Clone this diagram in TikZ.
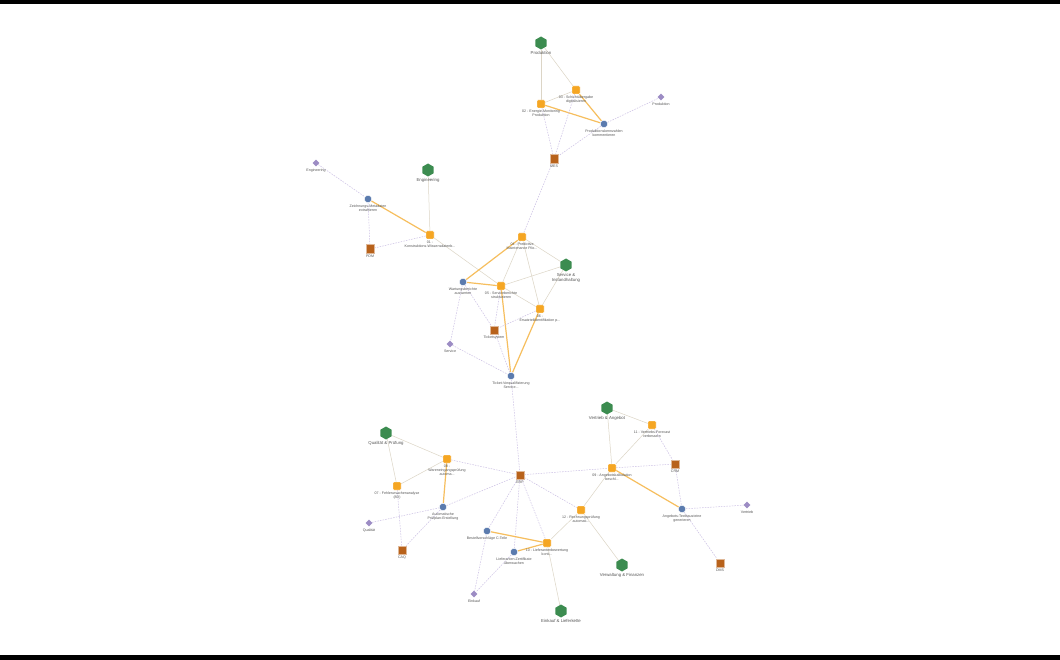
\documentclass[tikz,border=0pt]{standalone}
\usepackage{fontspec}
\setmainfont{Liberation Sans}
\usetikzlibrary{shapes.geometric,backgrounds}
\definecolor{ucor}{HTML}{F5A623}
\definecolor{sysbr}{HTML}{B8621B}
\definecolor{taskbl}{HTML}{5B7BAE}
\definecolor{domgr}{HTML}{3C8C50}
\definecolor{rolepu}{HTML}{9C8CC4}
\definecolor{edgeor}{HTML}{F5B342}
\definecolor{edgegr}{HTML}{DCD5C6}
\definecolor{edgepu}{HTML}{CBBFE4}
\definecolor{lbl}{HTML}{555555}
\tikzset{
  uc/.style={rectangle, rounded corners=0.8, fill=ucor, minimum size=8, inner sep=0, draw=white, line width=0.4},
  sys/.style={rectangle, fill=sysbr, minimum size=8.5, inner sep=0, draw=sysbr!45!white, line width=0.5},
  task/.style={circle, fill=taskbl, minimum size=7.5, inner sep=0, draw=white, line width=0.4},
  dom/.style={regular polygon, regular polygon sides=6, shape border rotate=30, fill=domgr, minimum size=13, inner sep=0},
  role/.style={diamond, fill=rolepu, minimum size=7, inner sep=0},
  lab/.style={font=\fontsize{3.6}{4}\selectfont, text=lbl, align=center, inner sep=0.3},
  hlab/.style={font=\fontsize{4.3}{4.8}\selectfont, text=lbl, align=center, inner sep=0.5},
  eor/.style={draw=edgeor, line width=1.2, opacity=0.85},
  egr/.style={draw=edgegr, line width=0.5},
  epu/.style={draw=edgepu, line width=0.5, dash pattern=on 1.5pt off 1.2pt},
  label distance=1.2,
}
\begin{document}
\begin{tikzpicture}[x=1pt,y=-1pt]
\useasboundingbox (0,0) rectangle (1060,660);

% Produktion cluster
\node[dom, label={[hlab]below:Produktion}] (hprod) at (541,43) {};
\node[uc, label={[lab]below:03 - Schichtübergabe\\digitalisieren}] (u03) at (576,90) {};
\node[uc, label={[lab]below:02 - Energie-Monitoring\\Produktion}] (u02) at (541,104) {};
\node[task, label={[lab]below:Produktionskennzahlen\\kommentieren}] (tkz) at (604,124) {};
\node[role, label={[lab]below:Produktion}] (dprod) at (661,97) {};
\node[sys, label={[lab]below:MES}] (mes) at (554,159) {};

% Engineering cluster
\node[role, label={[lab]below:Engineering}] (deng) at (316,163) {};
\node[dom, label={[hlab]below:Engineering}] (heng) at (428,170) {};
\node[task, label={[lab]below:Zeichnungs-Metadaten\\extrahieren}] (tzeich) at (368,199) {};
\node[uc, label={[lab]below:01 -\\Konstruktions-Wissensdatenb...}] (u01) at (430,235) {};
\node[sys, label={[lab]below:PDM}] (pdm) at (370,249) {};

% Service cluster
\node[uc, label={[lab]below:04 - Predictive\\Maintenance Pilo...}] (u04) at (522,237) {};
\node[dom, label={[hlab]below:Service \&\\Instandhaltung}] (hserv) at (566,265) {};
\node[task, label={[lab]below:Wartungsberichte\\auswerten}] (twart) at (463,282) {};
\node[uc, label={[lab]below:05 - Serviceberichte\\strukturieren}] (u05) at (501,286) {};
\node[uc, label={[lab]below:06 -\\Ersatzteilidentifikation p...}] (u06) at (540,309) {};
\node[sys, label={[lab]below:Ticketsystem}] (ticket) at (494,330) {};
\node[role, label={[lab]below:Service}] (dserv) at (450,344) {};
\node[task, label={[lab]below:Ticket-Vorqualifizierung\\Service...}] (tticket) at (511,376) {};

% Qualitaet / Einkauf cluster
\node[sys, label={[lab]below:ERP}] (erp) at (520,475) {};
\node[dom, label={[hlab]below:Qualität \& Prüfung}] (hqual) at (386,433) {};
\node[uc, label={[lab]below:08 -\\Wareneingangsprüfung\\automa...}] (u08) at (447,459) {};
\node[uc, label={[lab]below:07 - Fehlerursachenanalyse\\(8D)}] (u07) at (397,486) {};
\node[task, label={[lab]below:Automatische\\Prüfplan-Erstellung}] (tpruef) at (443,507) {};
\node[role, label={[lab]below:Qualität}] (dqual) at (369,523) {};
\node[sys, label={[lab]below:CAQ}] (caq) at (402,550) {};
\node[task, label={[lab]below:Bestellvorschläge C-Teile}] (tbest) at (487,531) {};
\node[uc, label={[lab]below:10 - Lieferantenbewertung\\konti...}] (u10) at (547,543) {};
\node[task, label={[lab]below:Lieferanten-Zertifikate\\überwachen}] (tlief) at (514,552) {};
\node[role, label={[lab]below:Einkauf}] (deink) at (474,594) {};
\node[dom, label={[hlab]below:Einkauf \& Lieferkette}] (heink) at (561,611) {};

% Vertrieb / Verwaltung cluster
\node[dom, label={[hlab]below:Vertrieb \& Angebot}] (hvert) at (607,408) {};
\node[uc, label={[lab]below:11 - Vertriebs-Forecast\\verbessern}] (u11) at (652,425) {};
\node[uc, label={[lab]below:09 - Angebotskalkulation\\beschl...}] (u09) at (612,468) {};
\node[sys, label={[lab]below:CRM}] (crm) at (675,464) {};
\node[task, label={[lab]below:Angebots-Textbausteine\\generieren}] (tang) at (682,509) {};
\node[role, label={[lab]below:Vertrieb}] (dvert) at (747,505) {};
\node[uc, label={[lab]below:12 - Rechnungsprüfung\\automati...}] (u12) at (581,510) {};
\node[sys, label={[lab]below:DMS}] (dms) at (720,563) {};
\node[dom, label={[hlab]below:Verwaltung \& Finanzen}] (hverw) at (622,565) {};

\begin{scope}[on background layer]
\fill[white] (0,0) rectangle (1060,660);
\fill[black] (0,0) rectangle (1060,4);
\fill[black] (0,655) rectangle (1060,660);
% Produktion
\draw[egr] (hprod) -- (u02);
\draw[egr] (hprod) -- (u03);
\draw[egr] (u02) -- (u03);
\draw[eor] (u02) -- (tkz);
\draw[eor] (u03) -- (tkz);
\draw[epu] (tkz) -- (dprod);
\draw[epu] (u02) -- (mes);
\draw[epu] (u03) -- (mes);
\draw[epu] (tkz) -- (mes);
\draw[epu] (mes) -- (u04);
% Engineering
\draw[epu] (deng) -- (tzeich);
\draw[egr] (heng) -- (u01);
\draw[eor] (tzeich) -- (u01);
\draw[epu] (tzeich) -- (pdm);
\draw[epu] (u01) -- (pdm);
\draw[egr] (u01) -- (u05);
% Service
\draw[eor] (u04) -- (twart);
\draw[egr] (u04) -- (u05);
\draw[egr] (u04) -- (hserv);
\draw[egr] (u04) -- (u06);
\draw[egr] (hserv) -- (u05);
\draw[egr] (hserv) -- (u06);
\draw[eor] (twart) -- (u05);
\draw[egr] (u05) -- (u06);
\draw[eor] (u05) -- (tticket);
\draw[eor] (u06) -- (tticket);
\draw[epu] (twart) -- (ticket);
\draw[epu] (u05) -- (ticket);
\draw[epu] (u06) -- (ticket);
\draw[epu] (tticket) -- (ticket);
\draw[epu] (twart) -- (dserv);
\draw[epu] (dserv) -- (tticket);
\draw[epu] (tticket) -- (erp);
% Qualitaet / Einkauf
\draw[egr] (hqual) -- (u08);
\draw[egr] (hqual) -- (u07);
\draw[egr] (u07) -- (u08);
\draw[eor] (u08) -- (tpruef);
\draw[epu] (u08) -- (erp);
\draw[epu] (u07) -- (caq);
\draw[epu] (tpruef) -- (erp);
\draw[epu] (tpruef) -- (caq);
\draw[epu] (dqual) -- (tpruef);
\draw[epu] (erp) -- (tbest);
\draw[epu] (erp) -- (tlief);
\draw[epu] (erp) -- (u10);
\draw[epu] (erp) -- (u09);
\draw[epu] (erp) -- (u12);
\draw[eor] (tbest) -- (u10);
\draw[eor] (tlief) -- (u10);
\draw[epu] (tbest) -- (deink);
\draw[epu] (tlief) -- (deink);
\draw[egr] (u10) -- (heink);
\draw[egr] (u10) -- (u12);
% Vertrieb / Verwaltung
\draw[egr] (hvert) -- (u11);
\draw[egr] (hvert) -- (u09);
\draw[egr] (u11) -- (u09);
\draw[epu] (u11) -- (crm);
\draw[epu] (u09) -- (crm);
\draw[eor] (u09) -- (tang);
\draw[epu] (crm) -- (tang);
\draw[epu] (tang) -- (dvert);
\draw[epu] (tang) -- (dms);
\draw[egr] (u09) -- (u12);
\draw[egr] (u12) -- (hverw);
\end{scope}
\end{tikzpicture}
\end{document}
